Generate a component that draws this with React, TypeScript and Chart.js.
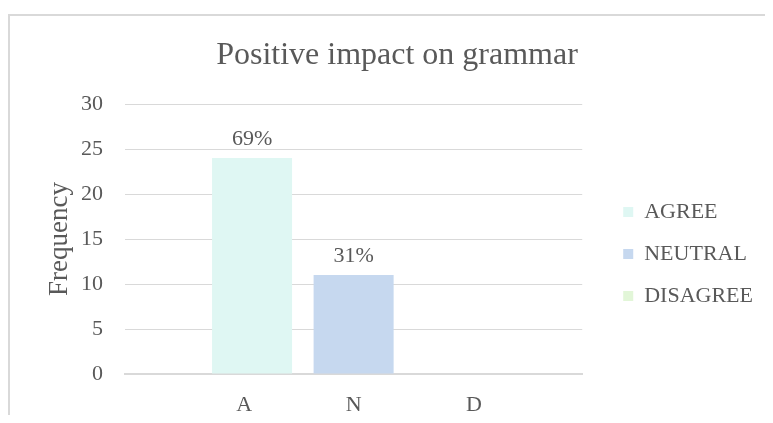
import React, { useEffect, useRef } from 'react';
import { Chart, registerables } from 'chart.js';

Chart.register(...registerables);

// ---- data ----
const chartTitle = 'Positive impact on grammar';
const yAxisTitle = 'Frequency';
const categories = ['  A                 N                   D'];
const seriesNames = ['AGREE', 'NEUTRAL', 'DISAGREE'];
const agreeValues = [24];
const neutralValues = [11];
const disagreeValues = [0];
const percentLabels = ['69%', '31%', ''];
const yMin = 0;
const yMax = 30;
const yStep = 5;

// ---- style ----
const COLORS = ['#DFF7F3', '#C6D8EF', '#E2F6D8'];
const TEXT = '#595959';
const GRID = '#D9D9D9';
const FONT = '"Liberation Serif", "Times New Roman", serif';
const LEGEND_EXTRA_W = 31;
const LEGEND_SHIFT = 21;
const LEGEND_DY = 38.5;
const PAD_LEFT = 11;

const legendGapPlugin = {
  id: 'legendGap',
  beforeLayout(chart: any) {
    const lg = chart.legend;
    if (lg && !lg.__gap) {
      const fit = lg.fit.bind(lg);
      lg.fit = function () {
        fit();
        this.width += LEGEND_EXTRA_W;
      };
      lg.__gap = true;
    }
  },
  afterLayout(chart: any) {
    const lg = chart.legend;
    if (lg) {
      lg.left += LEGEND_SHIFT;
      lg.top += LEGEND_DY;
      lg.bottom += LEGEND_DY;
    }
  },
};

const percentPlugin = {
  id: 'percentLabels',
  afterDatasetsDraw(chart: any) {
    const ctx = chart.ctx;
    chart.data.datasets.forEach((_ds: any, i: number) => {
      const label = percentLabels[i];
      if (!label) return;
      const meta = chart.getDatasetMeta(i);
      meta.data.forEach((el: any) => {
        ctx.save();
        ctx.font = `22px ${FONT}`;
        ctx.fillStyle = TEXT;
        ctx.textAlign = 'center';
        ctx.textBaseline = 'alphabetic';
        ctx.fillText(label, el.x, el.y - 13);
        ctx.restore();
      });
    });
  },
};

export default function App() {
  const ref = useRef<HTMLCanvasElement | null>(null);

  useEffect(() => {
    if (!ref.current) return;
    const values = [agreeValues, neutralValues, disagreeValues];
    const chart = new Chart(ref.current, {
      type: 'bar',
      data: {
        labels: categories,
        datasets: seriesNames.map((name, i) => ({
          label: name,
          data: values[i],
          backgroundColor: COLORS[i],
          borderWidth: 0,
          categoryPercentage: 0.6663,
          barPercentage: 0.788,
        })),
      },
      options: {
        responsive: false,
        animation: false,
        layout: { padding: { left: PAD_LEFT, right: 0, top: 0, bottom: 0 } },
        plugins: {
          title: {
            display: true,
            text: chartTitle,
            color: TEXT,
            font: { family: FONT, size: 32, weight: 'normal' },
            padding: { top: 20, bottom: 29.6 },
          },
          legend: {
            position: 'right',
            labels: {
              boxWidth: 10,
              boxHeight: 10,
              padding: 20,
              color: TEXT,
              font: { family: FONT, size: 22 },
            },
          },
          tooltip: { enabled: false },
        },
        scales: {
          x: {
            grid: { display: false, drawTicks: false },
            border: { display: true, color: GRID, width: 2 },
            ticks: {
              color: TEXT,
              font: { family: FONT, size: 22 },
              padding: 18,
              maxRotation: 0,
              autoSkip: false,
            },
            afterFit: (s: any) => {
              s.height = 41;
            },
          },
          y: {
            min: yMin,
            max: yMax,
            ticks: {
              stepSize: yStep,
              color: TEXT,
              font: { family: FONT, size: 22 },
              padding: 22,
            },
            grid: { color: GRID, drawTicks: false, lineWidth: 1 },
            border: { display: false },
            title: {
              display: true,
              text: yAxisTitle,
              color: TEXT,
              font: { family: FONT, size: 27 },
              padding: { top: 33.5 - PAD_LEFT, bottom: 0 },
            },
            afterFit: (s: any) => {
              s.width = 115 - PAD_LEFT;
            },
          },
        },
      },
      plugins: [legendGapPlugin, percentPlugin],
    } as any);
    return () => chart.destroy();
  }, []);

  return (
    <div style={{ paddingTop: 6 }}>
      <div
        style={{
          borderTop: `2px solid ${GRID}`,
          borderLeft: `2px solid ${GRID}`,
          width: 763,
          height: 399,
        }}
      >
        <canvas ref={ref} width={763} height={399} style={{ display: 'block', width: 763, height: 399 }} />
      </div>
    </div>
  );
}
